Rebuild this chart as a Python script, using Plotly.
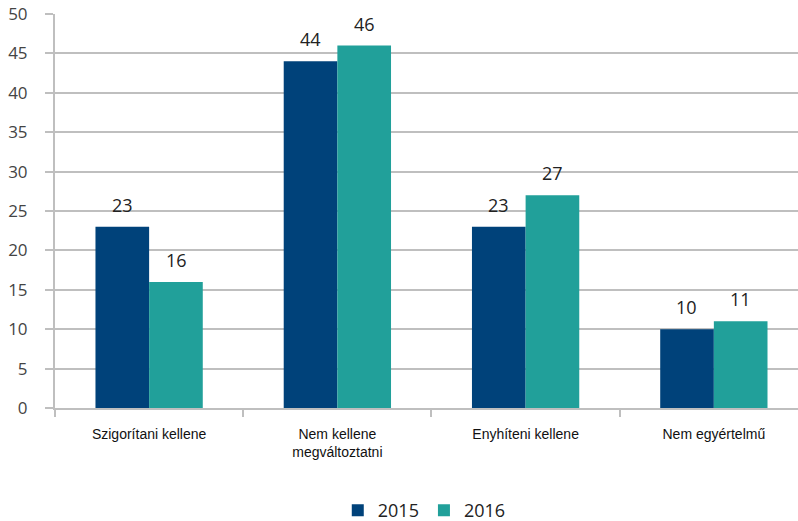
import plotly.graph_objects as go

categories = ["Szigorítani kellene", "Nem kellene<br>megváltoztatni", "Enyhíteni kellene", "Nem egyértelmű"]
series_names = ["2015", "2016"]
values_2015 = [23, 44, 23, 10]
values_2016 = [16, 46, 27, 11]
y_ticks = [0, 5, 10, 15, 20, 25, 30, 35, 40, 45, 50]

colors = ["#00427A", "#21A09A"]
label_font = dict(family="Open Sans, DejaVu Sans", size=18, color="#222222")

fig = go.Figure()
for name, vals, col in zip(series_names, [values_2015, values_2016], colors):
    fig.add_trace(go.Bar(
        x=categories, y=vals, name=name, marker=dict(color=col, line=dict(width=0)),
    ))

annotations = []
for vals, shift in zip([values_2015, values_2016], [-27, 27]):
    for c, v in zip(categories, vals):
        annotations.append(dict(x=c, y=v, xref="x", yref="y", text=str(v), showarrow=False,
                                xshift=shift, yshift=8, yanchor="bottom", font=label_font))

fig.update_layout(
    width=798, height=521,
    margin=dict(l=55, r=0, t=14, b=113, autoexpand=False),
    paper_bgcolor="white", plot_bgcolor="white",
    barmode="group", bargap=0.43, bargroupgap=0,
    showlegend=True,
    legend=dict(orientation="h", x=0.497, xanchor="center", y=-0.26, yanchor="middle",
                font=dict(family="Open Sans, DejaVu Sans", size=18, color="#222222"),
                traceorder="normal"),
    annotations=annotations,
)
fig.update_xaxes(
    range=[-0.5, 3.447], showgrid=False, automargin=False,
    showline=True, linecolor="#BFBFBF", linewidth=2,
    ticks="outside", tickson="boundaries", ticklen=7, tickcolor="#BFBFBF", tickwidth=2,
    ticklabelstandoff=12,
    tickfont=dict(family="Liberation Sans, Arial", size=14, color="#111111"),
)
fig.update_yaxes(
    range=[0, 50], tickvals=y_ticks, automargin=False,
    showgrid=True, gridcolor="#BFBFBF", gridwidth=2,
    showline=True, linecolor="#BFBFBF", linewidth=2,
    ticks="outside", ticklen=8, tickcolor="#BFBFBF", tickwidth=2,
    ticklabelstandoff=14, ticklabeloverflow="allow",
    tickfont=dict(family="Open Sans, DejaVu Sans", size=17, color="#444444"),
    zeroline=False,
)

fig.write_html("out.html", config={"displayModeBar": False},
               post_script="document.body.style.margin='0px';document.body.style.overflow='hidden';")
